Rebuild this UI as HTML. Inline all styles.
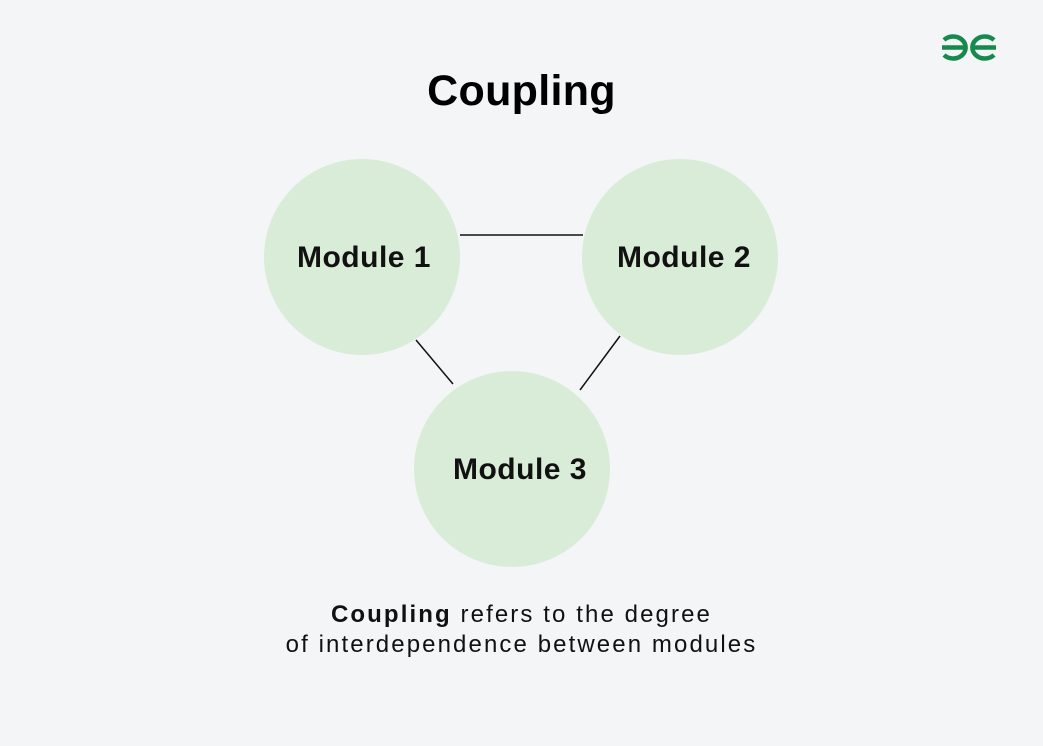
<!DOCTYPE html>
<html><head><style>
body{margin:0;width:1043px;height:746px;background:#f3f5f7;font-family:"Liberation Sans",sans-serif;position:relative;overflow:hidden}
.t{position:absolute;left:0;width:1043px;text-align:center;color:#000}
</style></head><body>
<svg width="1043" height="746" style="position:absolute;left:0;top:0">
<g stroke="#168a4c" stroke-width="4.5" fill="none">
<path d="M944 40 A12.5 11 0 1 1 944 55 M942 47.5 H967"/>
<path d="M994 40 A12.5 11 0 1 0 994 55 M996 47.5 H971"/>
</g>
<g stroke="#111" stroke-width="1.5">
<line x1="460" y1="235" x2="583" y2="235"/>
<line x1="416" y1="340" x2="453" y2="384"/>
<line x1="620" y1="336" x2="580" y2="390"/>
</g>
<g fill="#d9ecd8">
<circle cx="362" cy="257" r="98"/>
<circle cx="680" cy="257" r="98"/>
<circle cx="512" cy="469" r="98"/>
</g>
<g font-family="Liberation Sans, sans-serif" font-weight="bold" font-size="30" fill="#111" text-anchor="middle" letter-spacing="0.5">
<text x="364" y="267">Module 1</text>
<text x="684" y="267">Module 2</text>
<text x="520" y="479">Module 3</text>
</g>
</svg>
<div class="t" style="top:67px;font-size:43px;font-weight:bold;letter-spacing:0.3px">Coupling</div>
<div class="t" style="top:600px;font-size:24px;line-height:30px;color:#111;letter-spacing:2.1px"><b>Coupling</b> refers to the degree<br>of interdependence between modules</div>
</body></html>
